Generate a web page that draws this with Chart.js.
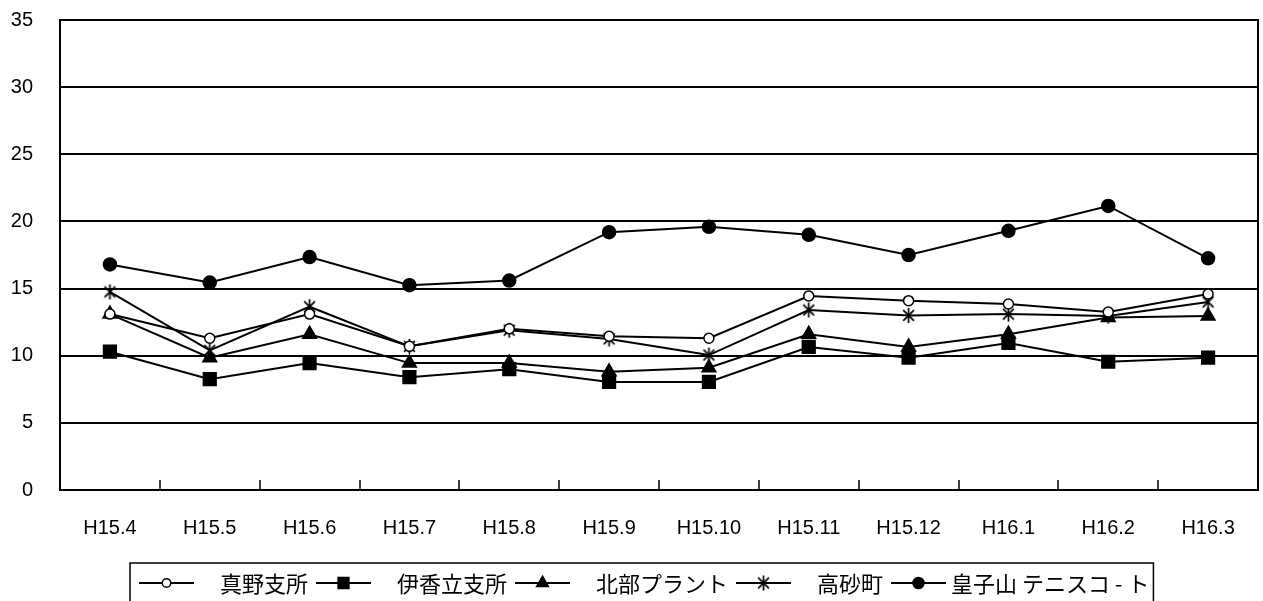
<!DOCTYPE html>
<html>
<head>
<meta charset="utf-8">
<script src="https://cdn.jsdelivr.net/npm/chart.js@4"></script>
<style>
  html, body { margin: 0; padding: 0; background: #fff; overflow: hidden; }
  #wrap { width: 1263px; height: 601px; }
  canvas { display: block; }
</style>
</head>
<body>
<div id="wrap"><canvas id="chart"></canvas></div>
<script>
const months = ['H15.4', 'H15.5', 'H15.6', 'H15.7', 'H15.8', 'H15.9', 'H15.10', 'H15.11', 'H15.12', 'H16.1', 'H16.2', 'H16.3'];
const mano = [13.1, 11.3, 13.1, 10.7, 12.0, 11.45, 11.3, 14.45, 14.1, 13.85, 13.25, 14.6];
const ikadachi = [10.3, 8.25, 9.45, 8.4, 9.0, 8.05, 8.05, 10.65, 9.85, 10.95, 9.55, 9.85];
const hokubu = [13.1, 9.85, 11.6, 9.45, 9.45, 8.8, 9.1, 11.6, 10.65, 11.6, 12.85, 12.95];
const takasago = [14.75, 10.4, 13.65, 10.7, 11.9, 11.25, 10.05, 13.4, 13.0, 13.1, 12.95, 14.0];
const oujiyama = [16.8, 15.45, 17.35, 15.25, 15.6, 19.2, 19.6, 19.0, 17.5, 19.3, 21.15, 17.25];
const yTicks = [0, 5, 10, 15, 20, 25, 30, 35];

// asterisk marker (vertical bar + X), chart.js has no 6-arm star
function asterisk(size) {
    const c = document.createElement('canvas');
    c.width = c.height = size;
    const g = c.getContext('2d');
    const h = size / 2, r = h - 1, d = r * 0.72;
    g.strokeStyle = '#000';
    g.lineWidth = 1.7;
    g.beginPath();
    g.moveTo(h, h - r); g.lineTo(h, h + r);
    g.moveTo(h - d, h - d); g.lineTo(h + d, h + d);
    g.moveTo(h + d, h - d); g.lineTo(h - d, h + d);
    g.stroke();
    return c;
}
const starImg = asterisk(17);

function series(label, data, style, radius, fill) {
    return {
        label: label,
        data: data,
        borderColor: '#000',
        borderWidth: 2,
        tension: 0,
        pointStyle: style,
        pointRadius: radius,
        pointBorderWidth: 1.5,
        pointBorderColor: '#000',
        pointBackgroundColor: fill,
        fill: false
    };
}

// frame round the plot + short inner ticks on the x axis
const frame = {
    id: 'frame',
    afterDraw(chart) {
        const { ctx, chartArea: a, scales } = chart;
        ctx.save();
        ctx.strokeStyle = '#000';
        ctx.lineWidth = 2;
        ctx.strokeRect(a.left, a.top, a.right - a.left, a.bottom - a.top);
        ctx.beginPath();
        for (let i = 1; i < months.length; i++) {
            const x = Math.round((scales.x.getPixelForValue(i - 1) + scales.x.getPixelForValue(i)) / 2);
            ctx.moveTo(x, a.bottom);
            ctx.lineTo(x, a.bottom - 10);
        }
        ctx.lineWidth = 1.5;
        ctx.stroke();
        ctx.restore();
    }
};

// boxed legend under the axis: line with marker, then the name
const boxLegend = {
    id: 'boxLegend',
    afterDraw(chart) {
        const ctx = chart.ctx;
        const left = 130, top = 563, cy = 583;
        const lineW = 55;
        ctx.save();
        ctx.font = '22px "Noto Sans CJK JP"';
        ctx.textBaseline = 'middle';
        let x = left + 9;
        chart.data.datasets.forEach((ds, i) => {
            ctx.strokeStyle = '#000';
            ctx.lineWidth = 2;
            ctx.beginPath();
            ctx.moveTo(x, cy);
            ctx.lineTo(x + lineW, cy);
            ctx.stroke();
            ctx.fillStyle = ds.pointBackgroundColor;
            ctx.lineWidth = ds.pointBorderWidth;
            Chart.helpers.drawPoint(ctx, {
                pointStyle: ds.pointStyle,
                radius: ds.pointRadius * 0.85,
                rotation: 0,
                borderWidth: ds.pointBorderWidth
            }, x + lineW / 2, cy);
            x += lineW + (i < 4 ? 26 : 5);
            ctx.fillStyle = '#000';
            ctx.fillText(ds.label, x, cy + 1);
            x += ctx.measureText(ds.label).width + (i < 4 ? 8 : 4);
        });
        ctx.strokeStyle = '#000';
        ctx.lineWidth = 1.5;
        ctx.strokeRect(left, top, x - left, 60);
        ctx.restore();
    }
};

new Chart(document.getElementById('chart'), {
    type: 'line',
    data: {
        labels: months,
        datasets: [
            series('真野支所', mano, 'circle', 5, '#fff'),
            series('伊香立支所', ikadachi, 'rect', 9, '#000'),
            series('北部プラント', hokubu, 'triangle', 8, '#000'),
            series('高砂町', takasago, starImg, 8, '#000'),
            series('皇子山 テニスコ - ト', oujiyama, 'circle', 6.5, '#000')
        ]
    },
    options: {
        responsive: true,
        maintainAspectRatio: false,
        animation: false,
        events: [],
        layout: { autoPadding: false, padding: { left: 11, right: 5, top: 20, bottom: 61 } },
        plugins: {
            legend: { display: false },
            tooltip: { enabled: false }
        },
        scales: {
            x: {
                offset: true,
                grid: { display: false, drawTicks: false },
                border: { display: false },
                ticks: {
                    color: '#000',
                    padding: 26,
                    maxRotation: 0,
                    font: { family: '"Liberation Sans", Arial', size: 20 }
                },
                afterFit(axis) {
                    axis.height = 50;
                    axis.paddingLeft = 0;
                    axis.paddingRight = 0;
                }
            },
            y: {
                min: 0,
                max: 35,
                afterBuildTicks(axis) {
                    axis.ticks = yTicks.map(v => ({ value: v }));
                },
                grid: { color: '#000', lineWidth: 2, drawTicks: false },
                border: { display: false },
                ticks: {
                    color: '#000',
                    padding: 27,
                    font: { family: '"Liberation Sans", Arial', size: 20 }
                },
                afterFit(axis) {
                    axis.width = 49;
                    axis.paddingTop = 0;
                    axis.paddingBottom = 0;
                }
            }
        }
    },
    plugins: [frame, boxLegend]
});
</script>
</body>
</html>
